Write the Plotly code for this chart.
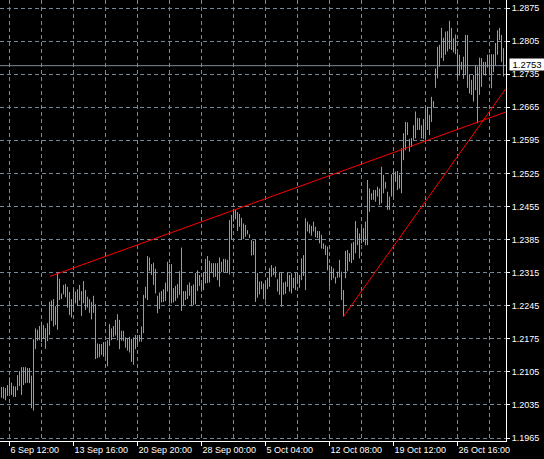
import plotly.graph_objects as go

# ---- data: per-bar highs and lows (H4 bars, oldest first) ----
highs = [
    1.2073, 1.2073, 1.2071, 1.2077, 1.2093, 1.2082, 1.2075, 1.2074, 1.2098, 1.2107,
    1.2115, 1.2115, 1.2115, 1.2113, 1.2113, 1.2097, 1.2174, 1.2197, 1.2194, 1.2202,
    1.2211, 1.2204, 1.2197, 1.2208, 1.2253, 1.2256, 1.2259, 1.2244, 1.2314, 1.2302,
    1.2271, 1.2289, 1.2291, 1.2285, 1.2274, 1.2259, 1.2282, 1.2275, 1.2280, 1.2289,
    1.2276, 1.2297, 1.2278, 1.2264, 1.2259, 1.2253, 1.2266, 1.2248, 1.2165, 1.2164,
    1.2164, 1.2168, 1.2169, 1.2172, 1.2206, 1.2197, 1.2202, 1.2215, 1.2227, 1.2215,
    1.2192, 1.2192, 1.2178, 1.2176, 1.2179, 1.2175, 1.2178, 1.2183, 1.2183, 1.2183,
    1.2201, 1.2268, 1.2285, 1.2350, 1.2347, 1.2333, 1.2336, 1.2323, 1.2266, 1.2273,
    1.2276, 1.2280, 1.2294, 1.2338, 1.2333, 1.2333, 1.2282, 1.2287, 1.2291, 1.2318,
    1.2368, 1.2276, 1.2276, 1.2289, 1.2294, 1.2287, 1.2290, 1.2314, 1.2320, 1.2310,
    1.2292, 1.2314, 1.2344, 1.2350, 1.2340, 1.2335, 1.2335, 1.2335, 1.2335, 1.2347,
    1.2338, 1.2344, 1.2344, 1.2342, 1.2426, 1.2437, 1.2450, 1.2448, 1.2443, 1.2439,
    1.2431, 1.2419, 1.2416, 1.2405, 1.2396, 1.2384, 1.2382, 1.2384, 1.2314, 1.2296,
    1.2297, 1.2292, 1.2297, 1.2304, 1.2325, 1.2331, 1.2325, 1.2328, 1.2301, 1.2316,
    1.2316, 1.2294, 1.2296, 1.2316, 1.2310, 1.2314, 1.2304, 1.2314, 1.2314, 1.2310,
    1.2345, 1.2352, 1.2430, 1.2423, 1.2417, 1.2414, 1.2423, 1.2412, 1.2403, 1.2403,
    1.2395, 1.2377, 1.2373, 1.2370, 1.2331, 1.2328, 1.2324, 1.2306, 1.2317, 1.2342,
    1.2317, 1.2278, 1.2361, 1.2363, 1.2356, 1.2377, 1.2380, 1.2424, 1.2409, 1.2398,
    1.2409, 1.2409, 1.2423, 1.2511, 1.2493, 1.2483, 1.2490, 1.2490, 1.2497, 1.2493,
    1.2539, 1.2522, 1.2507, 1.2486, 1.2476, 1.2523, 1.2534, 1.2529, 1.2530, 1.2522,
    1.2578, 1.2610, 1.2634, 1.2633, 1.2598, 1.2600, 1.2627, 1.2656, 1.2642, 1.2642,
    1.2627, 1.2640, 1.2663, 1.2666, 1.2649, 1.2687, 1.2678, 1.2747, 1.2793, 1.2797,
    1.2833, 1.2812, 1.2825, 1.2826, 1.2848, 1.2833, 1.2811, 1.2819, 1.2781, 1.2776,
    1.2761, 1.2772, 1.2818, 1.2818, 1.2735, 1.2723, 1.2733, 1.2754, 1.2751, 1.2770,
    1.2769, 1.2761, 1.2761, 1.2776, 1.2777, 1.2777, 1.2777, 1.2801, 1.2828, 1.2833,
    1.2818, 1.2790,
]
lows = [
    1.2050, 1.2048, 1.2045, 1.2054, 1.2060, 1.2056, 1.2052, 1.2052, 1.2066, 1.2075,
    1.2056, 1.2077, 1.2081, 1.2082, 1.2081, 1.2028, 1.2023, 1.2153, 1.2171, 1.2172,
    1.2168, 1.2175, 1.2154, 1.2170, 1.2183, 1.2213, 1.2201, 1.2204, 1.2194, 1.2257,
    1.2259, 1.2269, 1.2263, 1.2241, 1.2225, 1.2220, 1.2232, 1.2250, 1.2245, 1.2256,
    1.2223, 1.2250, 1.2236, 1.2241, 1.2230, 1.2216, 1.2230, 1.2132, 1.2134, 1.2136,
    1.2141, 1.2137, 1.2137, 1.2117, 1.2160, 1.2172, 1.2179, 1.2182, 1.2172, 1.2153,
    1.2171, 1.2170, 1.2156, 1.2150, 1.2146, 1.2126, 1.2120, 1.2153, 1.2162, 1.2169,
    1.2169, 1.2187, 1.2261, 1.2257, 1.2318, 1.2310, 1.2289, 1.2271, 1.2229, 1.2238,
    1.2252, 1.2253, 1.2255, 1.2275, 1.2252, 1.2250, 1.2252, 1.2255, 1.2261, 1.2268,
    1.2234, 1.2246, 1.2257, 1.2259, 1.2266, 1.2244, 1.2246, 1.2248, 1.2276, 1.2287,
    1.2275, 1.2278, 1.2292, 1.2293, 1.2294, 1.2314, 1.2305, 1.2306, 1.2299, 1.2285,
    1.2316, 1.2315, 1.2317, 1.2314, 1.2311, 1.2386, 1.2423, 1.2428, 1.2403, 1.2412,
    1.2384, 1.2386, 1.2391, 1.2396, 1.2388, 1.2351, 1.2352, 1.2253, 1.2262, 1.2269,
    1.2280, 1.2259, 1.2256, 1.2280, 1.2285, 1.2306, 1.2310, 1.2305, 1.2275, 1.2268,
    1.2243, 1.2268, 1.2270, 1.2285, 1.2275, 1.2271, 1.2282, 1.2278, 1.2292, 1.2283,
    1.2299, 1.2308, 1.2278, 1.2402, 1.2398, 1.2393, 1.2402, 1.2390, 1.2388, 1.2377,
    1.2366, 1.2365, 1.2352, 1.2320, 1.2285, 1.2299, 1.2303, 1.2292, 1.2304, 1.2305,
    1.2257, 1.2222, 1.2303, 1.2318, 1.2338, 1.2335, 1.2342, 1.2356, 1.2373, 1.2345,
    1.2377, 1.2380, 1.2373, 1.2373, 1.2444, 1.2469, 1.2469, 1.2465, 1.2476, 1.2458,
    1.2462, 1.2483, 1.2493, 1.2448, 1.2448, 1.2476, 1.2476, 1.2507, 1.2490, 1.2493,
    1.2483, 1.2553, 1.2574, 1.2606, 1.2571, 1.2581, 1.2596, 1.2599, 1.2617, 1.2617,
    1.2599, 1.2598, 1.2596, 1.2617, 1.2606, 1.2634, 1.2664, 1.2706, 1.2726, 1.2751,
    1.2769, 1.2763, 1.2776, 1.2783, 1.2788, 1.2786, 1.2781, 1.2777, 1.2726, 1.2732,
    1.2744, 1.2725, 1.2733, 1.2706, 1.2694, 1.2691, 1.2677, 1.2701, 1.2631, 1.2691,
    1.2708, 1.2733, 1.2732, 1.2749, 1.2732, 1.2705, 1.2739, 1.2754, 1.2776, 1.2807,
    1.2761, 1.2730,
]

# x-axis labels (bar index positions) and extra grid positions
xtick_pos = [4, 36, 68, 100, 132, 164, 196, 228]
xtick_labels = ["6 Sep 12:00", "13 Sep 16:00", "20 Sep 20:00", "28 Sep 00:00",
                "5 Oct 04:00", "12 Oct 08:00", "19 Oct 12:00", "26 Oct 16:00"]
xgrid_extra = [20, 52, 84, 116, 148, 180, 212, 244]

# y-axis price ticks
ytick_vals = [1.1965, 1.2035, 1.2105, 1.2175, 1.2245, 1.2315, 1.2385,
              1.2455, 1.2525, 1.2595, 1.2665, 1.2735, 1.2805, 1.2875]
ytick_labels = ["1.1965", "1.2035", "1.2105", "1.2175", "1.2245", "1.2315", "1.2385",
                "1.2455", "1.2525", "1.2595", "1.2665", "1.2735", "1.2805", "1.2875"]

# trend lines (bar index, price)
trend1_x = [24.25, 252.25]
trend1_y = [1.2307, 1.2655]
trend2_x = [171, 252.25]
trend2_y = [1.2222, 1.2705]

bid_price = 1.2753
bid_label = "1.2753"

x_range = [-0.75, 252.25]
y_range = [1.195865, 1.289193]

GRID = "#778899"
BAR = "#3fe02a"
FONT = "Liberation Sans"

# build the high-low bar segments
bx, by = [], []
for i, (h, l) in enumerate(zip(highs, lows)):
    bx += [i, i, None]
    by += [l, h, None]

fig = go.Figure()

fig.add_trace(go.Scatter(
    x=x_range, y=[bid_price, bid_price], mode="lines",
    line=dict(color=GRID, width=1), hoverinfo="skip", showlegend=False))

fig.add_trace(go.Scatter(
    x=bx, y=by, mode="lines", line=dict(color=BAR, width=1),
    hoverinfo="skip", showlegend=False))

fig.add_trace(go.Scatter(
    x=trend1_x, y=trend1_y, mode="lines", line=dict(color="#ff0000", width=1),
    hoverinfo="skip", showlegend=False))
fig.add_trace(go.Scatter(
    x=trend2_x, y=trend2_y, mode="lines", line=dict(color="#ff0000", width=1),
    hoverinfo="skip", showlegend=False))

fig.add_annotation(
    x=1, xref="paper", xanchor="left", xshift=3,
    y=bid_price, yref="y", yanchor="middle", yshift=1,
    text=bid_label, showarrow=False, width=34, height=11, align="center",
    font=dict(family=FONT, size=9.5, color="#000000"),
    bgcolor="#ffffff", borderpad=0)

fig.update_layout(
    width=544, height=459,
    margin=dict(l=0, r=38, t=0, b=18),
    paper_bgcolor="#000000", plot_bgcolor="#000000",
    showlegend=False,
    font=dict(family=FONT, size=9, color="#ffffff"),
    xaxis=dict(
        range=x_range, showline=True, linecolor="#ffffff", linewidth=1,
        tickmode="array", tickvals=xtick_pos, ticktext=xtick_labels,
        ticks="outside", ticklen=4, tickcolor="#ffffff", tickwidth=1,
        ticklabelposition="outside right",
        tickfont=dict(family=FONT, size=9, color="#ffffff"),
        showgrid=True, gridcolor=GRID, gridwidth=1, griddash="4px,3px",
        minor=dict(tickmode="array", tickvals=xgrid_extra, showgrid=True,
                   gridcolor=GRID, gridwidth=1, griddash="4px,3px", ticks=""),
        zeroline=False, fixedrange=True, automargin=False,
    ),
    yaxis=dict(
        range=y_range, side="right", showline=True, linecolor="#ffffff", linewidth=1,
        tickmode="array", tickvals=ytick_vals, ticktext=ytick_labels,
        ticks="outside", ticklen=3, tickcolor="#ffffff", tickwidth=1,
        tickfont=dict(family=FONT, size=9, color="#ffffff"),
        showgrid=True, gridcolor=GRID, gridwidth=1, griddash="4px,3px",
        zeroline=False, fixedrange=True, automargin=False,
    ),
)

fig.write_html(
    "out.html",
    config={"displayModeBar": False},
    post_script="document.body.style.margin='0';document.body.style.background='#000';",
)
